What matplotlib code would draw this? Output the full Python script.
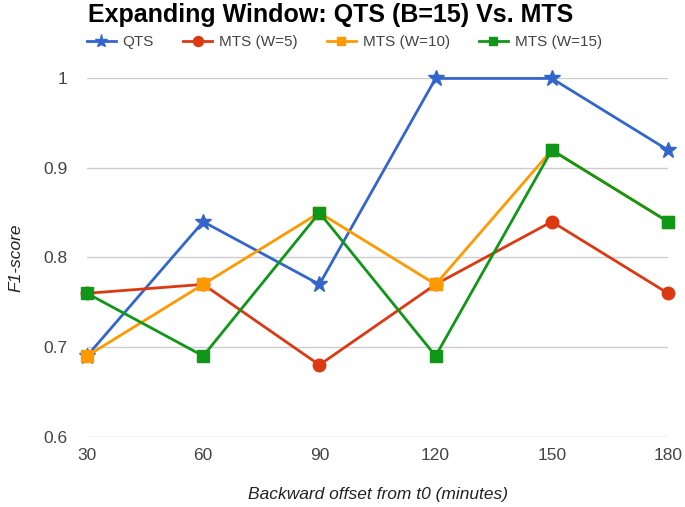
import matplotlib
matplotlib.use('Agg')
import matplotlib.pyplot as plt

plt.rcParams['font.family'] = ['Liberation Sans', 'DejaVu Sans']

offsets = [30, 60, 90, 120, 150, 180]
qts = [0.69, 0.84, 0.77, 1.0, 1.0, 0.92]
mts_w5 = [0.76, 0.77, 0.68, 0.77, 0.84, 0.76]
mts_w10 = [0.69, 0.77, 0.85, 0.77, 0.92, 0.84]
mts_w15 = [0.76, 0.69, 0.85, 0.69, 0.92, 0.84]
y_ticks = [0.6, 0.7, 0.8, 0.9, 1.0]
y_tick_labels = ['0.6', '0.7', '0.8', '0.9', '1']

series = [
    ('QTS', qts, '#3366cc', '*', 12),
    ('MTS (W=5)', mts_w5, '#dc3912', 'o', 9),
    ('MTS (W=10)', mts_w10, '#ff9900', 's', 8),
    ('MTS (W=15)', mts_w15, '#109618', 's', 8),
]

fig = plt.figure(figsize=(6.85, 5.07), dpi=100)
ax = fig.add_axes([87 / 685, 1 - 437 / 507, (668 - 87) / 685, (437 - 78) / 507])

for name, vals, color, marker, ms in series:
    ax.plot(offsets, vals, color=color, lw=2, marker=marker, ms=ms,
            label=name, clip_on=False, zorder=3)

ax.set_xlim(30, 180)
ax.set_ylim(0.5995, 1.0005)
ax.set_xticks(offsets)
ax.set_xticklabels([str(o) for o in offsets])
ax.set_yticks(y_ticks)
ax.set_yticklabels(y_tick_labels)
ax.tick_params(axis='both', length=0, labelsize=12.5, colors='#444444')
ax.tick_params(axis='y', pad=14)
ax.tick_params(axis='x', pad=8)
ax.grid(axis='y', color='#cccccc', lw=1)
ax.set_axisbelow(True)
for s in ax.spines.values():
    s.set_visible(False)

ax.set_xlabel('Backward offset from t0 (minutes)', style='italic',
              fontsize=12.5, color='#222222', labelpad=17)
ax.set_ylabel('F1-score', style='italic', fontsize=12.5, color='#222222',
              labelpad=14)

fig.text(88 / 685, 1 - 15 / 507, 'Expanding Window: QTS (B=15) Vs. MTS',
         fontsize=18, fontweight='bold', color='black', va='center', ha='left')

fig.legend(loc='center left', bbox_to_anchor=(73 / 685, 1 - 42 / 507),
           ncol=4, frameon=False, fontsize=11, handlelength=1.9,
           columnspacing=1.9, handletextpad=0.45, markerscale=0.8,
           labelcolor='#444444')

fig.savefig('out.png', dpi=100)
